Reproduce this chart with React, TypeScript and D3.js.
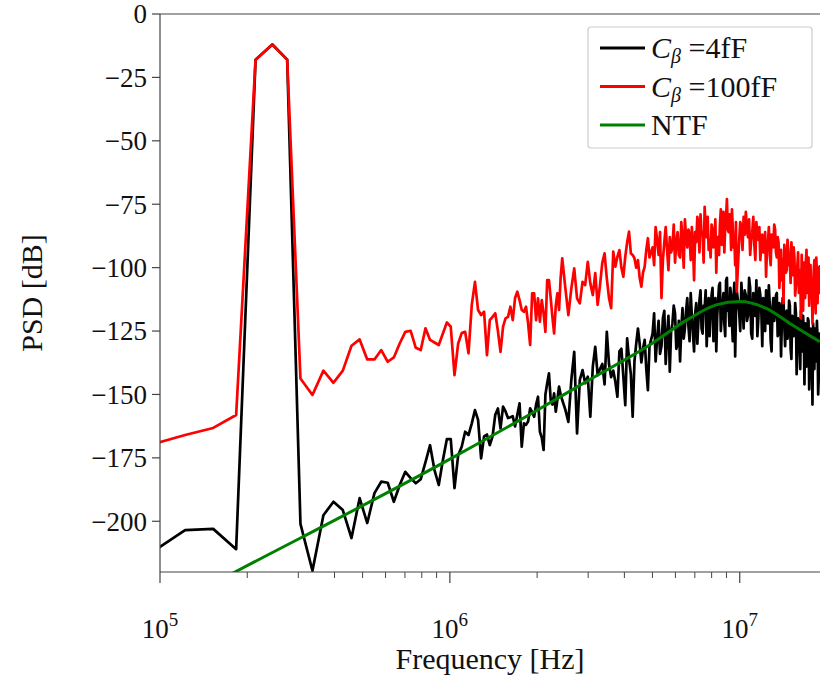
import * as d3 from "d3";

const W = 820;
const H = 677;
const marginLeft = 160;
const marginRight = 0;
const marginTop = 14;
const marginBottom = 105;

// FFT bin width and the bins that are plotted (denser bins thinned out)
const binHz = 1e9 / 32768;
const bins = [
  ...d3.range(3, 81),
  ...d3.range(82, 161, 2),
  ...d3.range(164, 321, 2),
  ...d3.range(326, 621, 3),
];

// PSD for C_beta = 4fF [dB]
const psd4f = [
  -213, -203.5, -203, -211, -18, -12, -18, -201, -219.5, -197.6, -192.3, -195.6, -206.6, -190.9, -200.7,
  -188.9, -184.4, -184.8, -192.3, -185.7, -180.5, -183, -185, -183.4, -176.7, -170, -179.8, -185.7, -175.9,
  -167.6, -167.6, -186.9, -174,
  -170.6, -164.7, -166, -161.4, -156.2, -160, -175.2, -166.5, -165.8, -170, -166.5, -158, -155.5, -163.4,
  -154.8, -156.7, -159.3, -159, -158.6, -162.6, -158, -153.5, -170.6, -161.4, -162, -160.7, -155.5, -157,
  -158.8, -154, -150.9, -164.7, -167, -171.9, -150, -145.6, -141.7, -152.2, -154, -149.6, -156.8, -152,
  -146.9, -150, -152.2,
  -156, -160.8, -144.3, -133.2, -165.4, -144.3, -140.4, -145.6, -143, -158.8, -139, -131.2, -142.4, -140,
  -138, -146, -125.3, -138, -143.2, -140.6, -145, -150.9, -133, -132, -143, -154.2, -127.9, -136, -142,
  -158.8, -137, -130, -124, -130, -137.4, -132, -128.5, -140, -148.3, -131,
  -126, -118, -137, -128, -121, -134, -131, -120, -117, -138, -127, -119, -141, -125, -122, -115, -118,
  -132, -130, -121, -137, -124, -116, -128, -124, -117, -112, -123, -129, -110, -119, -126, -133, -118,
  -114, -130, -121, -113, -109, -124, -126, -115, -116, -109, -131, -120, -112, -127, -118, -111, -108,
  -129, -124, -112, -133, -119, -113, -107, -106, -125, -119, -114, -110, -122, -127, -105, -104, -117,
  -115, -123, -108, -111, -121, -129, -112, -106, -135, -118, -109,
  -117, -125, -106, -114, -124, -109, -111, -121, -119, -104, -108, -126, -128, -110, -113, -119, -105,
  -127, -120, -108, -111, -117, -131, -112, -114, -125, -109, -118, -122, -107, -115, -129, -133, -116,
  -112, -121, -118, -111, -110, -127, -126, -114, -116, -135, -121, -112, -113, -123, -131, -118, -117,
  -128, -124, -113, -115, -132, -136, -119, -120, -127, -126, -114, -118, -142, -130, -120, -122, -128,
  -140, -117, -124, -133, -119, -125, -146, -122, -127, -139, -133, -120, -121, -148, -138, -124, -126,
  -131, -154, -122, -130, -140, -124, -127, -137, -121, -128, -150, -143, -126, -131,
];

// PSD for C_beta = 100fF [dB]
const psd100f = [
  -170, -166, -163.2, -158.1, -18, -12, -18, -143.7, -150.2, -140.6, -145.4, -140.6, -130.8, -128.3, -136.2,
  -136.2, -132.5, -137.1, -135.4, -129.9, -125.3, -124.9, -131.6, -132.5, -123.9, -128.5, -129.5, -130.5,
  -126, -121.6, -123.3, -142.4, -129.9,
  -125.8, -125.3, -133.8, -114.7, -105.6, -116.7, -118.7, -117.4, -134.5, -120.7, -119.4, -118, -125,
  -133.2, -123.3, -120, -119.4, -115.4, -120.7, -112, -109.5, -112.8, -116.7, -117.4, -115.4, -122, -130.5,
  -110.1, -110.1, -120.7, -112.1, -121.3, -112.8, -118, -125.3, -104.9, -104.9, -112, -119.4, -125.9, -115,
  -110.1, -116.7, -104, -96.3,
  -108, -118.7, -108.2, -100.3, -112.1, -114.1, -105.6, -106.9, -97.7, -106.2, -110.8, -102.2, -114.7,
  -106.9, -98, -94.4, -104.2, -112, -116, -93.7, -99.6, -95.7, -93.1, -100, -103.6, -95.7, -90, -85.8,
  -94.4, -95, -96.3, -100, -97, -104, -107.5, -102, -99.6, -93, -88.4, -96,
  -92, -99, -84, -89, -95, -86, -112, -97, -90, -84, -93, -101, -88, -94, -92, -83, -98, -90, -86, -95,
  -96, -82, -89, -100, -81, -88, -92, -85, -87, -97, -84, -91, -105, -86, -90, -80, -83, -94, -79, -87,
  -86, -98, -76, -84, -88, -80, -93, -89, -96, -83, -85, -92, -90, -81, -102, -88, -88, -95, -83, -77,
  -91, -86, -78, -94, -84, -80, -73, -85, -86, -79, -81, -93, -77, -84, -92, -88, -99, -82, -109.5,
  -90, -82, -84, -93, -80, -87, -78, -85, -88, -81, -95, -89, -86, -80, -91, -97, -82, -88, -89, -84,
  -97, -90, -87, -94, -93, -86, -103.6, -92, -90, -84, -95, -99, -87, -91, -92, -83, -85, -94, -96, -88,
  -90, -108, -100, -93, -105, -97, -114, -91, -95, -102, -101, -89, -93, -99, -98, -106, -90, -96, -103,
  -92, -96, -111, -107, -100, -99, -94, -110, -104, -101, -120, -95, -105, -117, -98, -104, -112, -98,
  -93, -110, -104, -96, -115, -103, -99, -112, -106, -122, -109, -101, -97, -108, -118, -96, -103, -114,
  -100, -105, -110, -99,
];

// noise transfer function
const ntfFreq = [1e5, 1.813e5, 3.04e5, 1e6, 2e6, 3e6, 4.89e6, 6.71e6, 8.3e6, 1e7, 1.23e7, 1.49e7, 1.89e7];
const ntfDb = [-235.5, -220, -206.7, -175.5, -156.2, -144.5, -130.5, -120, -114.7, -113.4, -116, -122, -129.2];

const yTicks = [0, -25, -50, -75, -100, -125, -150, -175, -200];
const xDecades = [5, 6, 7];

const legendItems = [
  { color: "#000", name: "C", sub: "\u03b2", rest: " =4fF" },
  { color: "#ff0000", name: "C", sub: "\u03b2", rest: " =100fF" },
  { color: "#008000", name: "NTF", sub: "", rest: "" },
];

const serif = "'Liberation Serif', 'Times New Roman', serif";

export default function App() {
  const x = d3
    .scaleLog()
    .domain([1e5, 620 * binHz])
    .range([marginLeft, W - marginRight]);
  const y = d3
    .scaleLinear()
    .domain([-220, 0])
    .range([H - marginBottom, marginTop]);

  const line = d3
    .line<[number, number]>()
    .x((d) => x(d[0]))
    .y((d) => y(d[1]));
  const smooth = d3
    .line<[number, number]>()
    .x((d) => x(d[0]))
    .y((d) => y(d[1]))
    .curve(d3.curveMonotoneX);

  const black = bins.map((k, i) => [k * binHz, psd4f[i]] as [number, number]);
  const red = bins.map((k, i) => [k * binHz, psd100f[i]] as [number, number]);
  const green = ntfFreq.map((f, i) => [f, ntfDb[i]] as [number, number]);

  // minor log ticks
  const minor: number[] = [];
  xDecades.forEach((e) => {
    for (let m = 2; m < 10; m++) {
      const f = m * 10 ** e;
      if (f <= x.domain()[1]) minor.push(f);
    }
  });

  const x0 = marginLeft;
  const x1 = W - marginRight;
  const y0 = H - marginBottom;
  const axisColor = "#444";

  return (
    <svg width={W} height={H} style={{ position: "absolute", left: 0, top: 0, background: "#fff" }}>
      <defs>
        <clipPath id="plot">
          <rect x={x0} y={marginTop} width={x1 - x0} height={y0 - marginTop} />
        </clipPath>
      </defs>

      <g clipPath="url(#plot)" fill="none" strokeLinejoin="round">
        <path d={line(black) ?? ""} stroke="#000" strokeWidth={2.7} />
        <path d={line(red) ?? ""} stroke="#ff0000" strokeWidth={2.7} />
        <path d={smooth(green) ?? ""} stroke="#008000" strokeWidth={3} />
      </g>

      {/* frame */}
      <g stroke={axisColor} strokeWidth={1.2} fill="none">
        <line x1={x0} x2={x0} y1={marginTop} y2={y0} />
        <line x1={x0} x2={x1} y1={y0} y2={y0} />
        <line x1={x0} x2={x1} y1={marginTop} y2={marginTop} />
      </g>

      {/* y axis */}
      <g fontFamily={serif} fontSize={27} fill="#111">
        {yTicks.map((t) => (
          <g key={t}>
            <line x1={x0 - 8} x2={x0} y1={y(t)} y2={y(t)} stroke={axisColor} strokeWidth={1.2} />
            <text x={x0 - 13} y={y(t)} dy="0.35em" textAnchor="end">
              {t < 0 ? `\u2212${-t}` : t}
            </text>
          </g>
        ))}
        <text
          transform={`translate(${31},${(marginTop + y0) / 2}) rotate(-90)`}
          textAnchor="middle"
          fontSize={30}
          dy="0.35em"
        >
          PSD [dB]
        </text>
      </g>

      {/* x axis */}
      <g fontFamily={serif} fill="#111">
        {minor.map((f) => (
          <line key={f} x1={x(f)} x2={x(f)} y1={y0} y2={y0 + 6} stroke={axisColor} strokeWidth={1} />
        ))}
        {xDecades.map((e) => (
          <g key={e}>
            <line x1={x(10 ** e)} x2={x(10 ** e)} y1={y0} y2={y0 + 11} stroke={axisColor} strokeWidth={1.2} />
            <text x={x(10 ** e)} y={y0 + 66} textAnchor="middle" fontSize={27}>
              10
              <tspan fontSize={19} dy={-12}>
                {e}
              </tspan>
            </text>
          </g>
        ))}
        <text x={(x0 + x1) / 2} y={H - 8} textAnchor="middle" fontSize={30}>
          Frequency [Hz]
        </text>
      </g>

      {/* legend */}
      <g fontFamily={serif} fontSize={30} fill="#111">
        <rect x={588} y={27} width={224} height={121} rx={3} fill="#fff" stroke="#ccc" strokeWidth={1.2} />
        {legendItems.map((d, i) => {
          const ly = 48 + i * 38.5;
          return (
            <g key={i}>
              <line x1={600} x2={645} y1={ly} y2={ly} stroke={d.color} strokeWidth={3} />
              <text x={651} y={ly + 10}>
                {d.sub ? (
                  <>
                    <tspan fontStyle="italic">{d.name}</tspan>
                    <tspan fontStyle="italic" fontSize={20} dy={5}>
                      {d.sub}
                    </tspan>
                    <tspan dy={-5}>{d.rest}</tspan>
                  </>
                ) : (
                  d.name
                )}
              </text>
            </g>
          );
        })}
      </g>
    </svg>
  );
}
